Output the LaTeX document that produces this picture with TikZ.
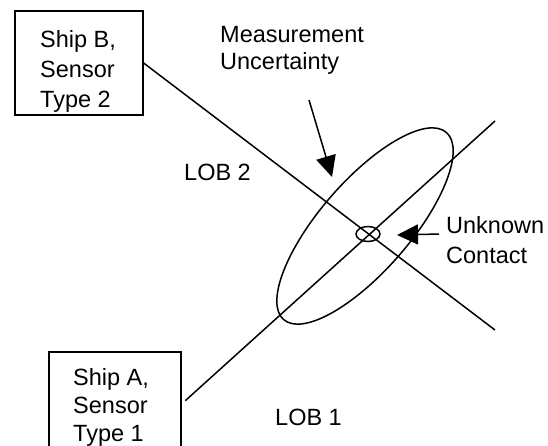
\documentclass[tikz,border=0pt]{standalone}
\usepackage{fontspec}
\setmainfont{Liberation Sans}
\usetikzlibrary{arrows.meta,shapes.geometric}

\begin{document}
\begin{tikzpicture}[x=1pt,y=-1pt,
  lbl/.style={inner sep=0pt, align=left},
  shipbox/.style={draw, line width=1.2pt, inner sep=0pt, minimum height=104pt},
  lob/.style={line width=1.5pt},
  pointer/.style={line width=1.5pt, -{Triangle[length=21pt,width=20pt]}},
]
\useasboundingbox (0,0) rectangle (548,445);
\clip (0,0) rectangle (548,445);

% sensor platforms
\node[shipbox, minimum width=128pt] (shipB) at (79,63) {};
\node[lbl, anchor=north west, font=\fontsize{23.5}{30}\selectfont] (shipBtxt) at (40,30.2) {Ship B,\\Sensor\\Type 2};
\node[shipbox, minimum width=132pt] (shipA) at (115,404) {};
\node[lbl, anchor=north west, font=\fontsize{23.5}{28}\selectfont] (shipAtxt) at (73,368.2) {Ship A,\\Sensor\\Type 1};

% lines of bearing
\coordinate (lobBend) at (495,330);
\coordinate (lobAend) at (495,121);
\draw[lob] (shipB.east) -- (lobBend);
\draw[lob, shorten <=5pt] (shipA.east) -- (lobAend);

% uncertainty region and contact
\node[draw, ellipse, lob, minimum width=248pt, minimum height=90pt, inner sep=0pt, rotate=49] (uncert) at (365,226) {};
\node[draw, ellipse, lob, minimum width=24pt, minimum height=15pt, inner sep=0pt] (contact) at (368,234) {};

% labels
\node[lbl, anchor=north west, font=\fontsize{23.5}{27}\selectfont] (meas) at (220,26.2) {Measurement\\Uncertainty};
\node[lbl, anchor=north west, font=\fontsize{23.5}{30}\selectfont] (unk) at (446,216.2) {Unknown\\Contact};
\node[lbl, anchor=base west, font=\fontsize{23.5}{27}\selectfont] (lob2) at (184,180) {LOB 2};
\node[lbl, anchor=base west, font=\fontsize{23.5}{27}\selectfont] (lob1) at (275,425) {LOB 1};

% pointers
\coordinate (measFrom) at (309,100);
\coordinate (measTip) at (332,177);
\draw[pointer] (measFrom) -- (measTip);
\coordinate (unkFrom) at (439,234);
\coordinate (unkTip) at (397,235);
\draw[pointer] (unkFrom) -- (unkTip);
\end{tikzpicture}
\end{document}
